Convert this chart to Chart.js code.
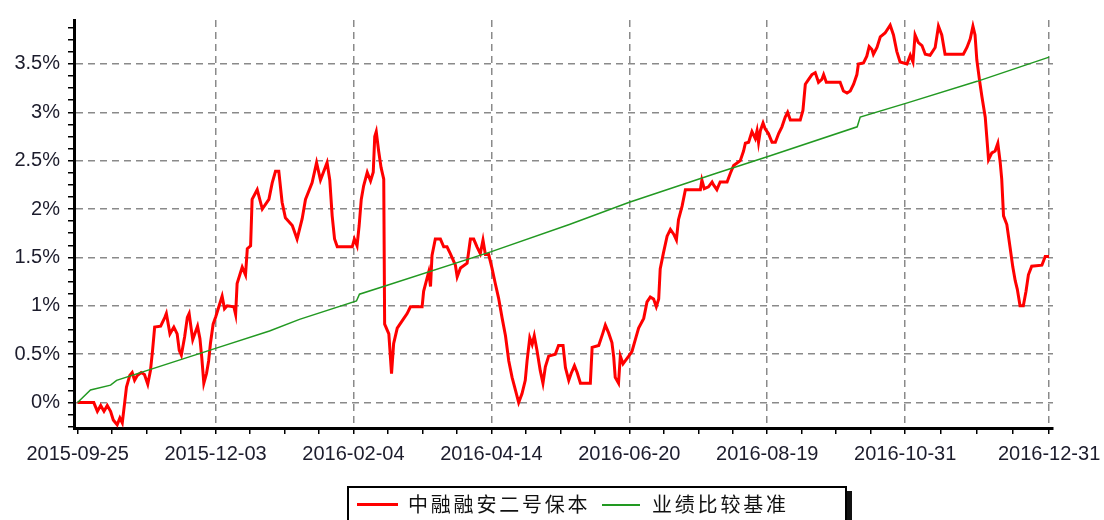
<!DOCTYPE html>
<html>
<head>
<meta charset="utf-8">
<script src="https://cdn.jsdelivr.net/npm/chart.js@4.4.1/dist/chart.umd.min.js"></script>
<style>
  body { margin: 0; background: #fff; }
  #wrap { position: relative; width: 1104px; height: 520px; overflow: hidden; }
  .legend {
    position: absolute; left: 347px; top: 486px; width: 496px; height: 50px;
    border: 2px solid #000; box-shadow: 5px 5px 0 #111; background: #fff;
    font-family: "Noto Sans CJK SC", sans-serif; font-size: 20px; letter-spacing: 2.8px; color: #111;
  }
  .legend .swatch { position: absolute; }
  .legend .txt { position: absolute; top: 2px; line-height: 28px; white-space: nowrap; }
</style>
</head>
<body>
<div id="wrap">
  <canvas id="chart" width="1104" height="520"></canvas>
  <div class="legend">
    <span class="swatch" style="left:8px;top:15px;width:41px;height:3px;background:#ff0000"></span>
    <span class="txt" style="left:59px">中融融安二号保本</span>
    <span class="swatch" style="left:253px;top:16px;width:38px;height:2px;background:#229922"></span>
    <span class="txt" style="left:303px">业绩比较基准</span>
  </div>
</div>
<script>
// x axis is the trading-day index counted from 2015-09-25
const tickDays = [0, 46, 92, 138, 184, 230, 276, 324];
const tickLabels = ['2015-09-25', '2015-12-03', '2016-02-04', '2016-04-14',
                    '2016-06-20', '2016-08-19', '2016-10-31', '2016-12-31'];

// 中融融安二号保本 (%)
const fundDay = [
  0, 5.4, 6.6, 7.7, 8.8, 9.9, 11, 11.9, 13.2, 14.1,
  14.9, 15.7, 16.3, 17.4, 18.2, 19, 19.9, 21.2, 22.3, 23.4,
  24.3, 25, 25.7, 27.7, 29.1, 29.6, 30.8, 32.1, 33.2, 33.9,
  34.6, 35.7, 36.6, 37.2, 37.9, 38.4, 39.3, 40, 40.8, 41.4,
  42.1, 43, 43.7, 44.3, 45.2, 46.1, 47.1, 48.2, 49, 49.9,
  52.1, 52.7, 53.2, 54.9, 56, 56.6, 57.7, 58.2, 59.9, 61.6,
  63.8, 64.9, 66, 67.1, 68.2, 69.3, 71.6, 73.2, 74.9, 76,
  78.2, 79.7, 81, 83.2, 84.1, 84.9, 85.7, 86.6, 91.6, 92.3,
  93.2, 93.9, 94.6, 95.4, 96.6, 97.7, 98.6, 99.1, 99.6, 100.4,
  101.2, 102.1, 102.4, 103.8, 104.7, 105.4, 106.6, 108.8, 109.9, 111,
  114.9, 115.4, 117.1, 117.7, 118.2, 119.3, 121, 122.1, 123.2, 124.3,
  126, 126.6, 127.7, 129.9, 131, 132.1, 133.2, 134.3, 135.2, 136,
  137.1, 138.2, 139.3, 140.4, 141.6, 142.7, 143.8, 144.9, 146, 147.1,
  148.2, 149.3, 149.9, 150.8, 151.6, 152.3, 153.2, 154.3, 155.2, 156,
  157.1, 159.3, 160.4, 161.9, 162.7, 163.8, 164.6, 165.7, 166.6, 167.7,
  171, 171.6, 173.8, 175.2, 176, 177.1, 178.2, 178.8, 179.3, 180.4,
  181, 181.9, 183.8, 184.9, 186, 187.1, 188.8, 189.9, 191, 192.1,
  193, 193.8, 194.3, 195.4, 196.6, 197.7, 198.8, 199.7, 200.4, 201.6,
  202.7, 207.7, 208.2, 209, 210.4, 211.6, 212.1, 213.2, 214.3, 216.6,
  217.7, 218.8, 221, 222.1, 222.7, 223.8, 224.9, 226, 226.6, 227.1,
  227.7, 228.6, 229.3, 230.4, 231.6, 232.7, 233.8, 234.9, 236, 236.8,
  237.7, 241, 241.9, 242.7, 243.8, 244.9, 246, 247.1, 248.2, 248.8,
  249.7, 254.3, 255.4, 256.6, 257.7, 258.8, 259.9, 260.4, 262.1, 263.2,
  264, 264.9, 265.4, 266.6, 267.7, 269.3, 271, 272.1, 273.2, 274.3,
  276.6, 277.7, 278.6, 279.3, 280.4, 281.6, 282.7, 284.3, 286, 287.1,
  288.2, 289.3, 295.4, 296.6, 297.7, 298.6, 299.3, 299.9, 300.8, 301.6,
  302.7, 303.2, 303.8, 304.9, 306, 306.9, 307.7, 308.2, 308.8, 309.9,
  311, 311.9, 312.7, 313.4, 314.3, 315.4, 316.3, 317.1, 318.2, 321.6,
  322.7, 324
];
const fundPct = [
  0, 0, -0.09, -0.03, -0.09, -0.03, -0.09, -0.18, -0.23, -0.16,
  -0.21, 0, 0.16, 0.28, 0.31, 0.23, 0.28, 0.31, 0.29, 0.19,
  0.33, 0.54, 0.78, 0.79, 0.88, 0.92, 0.71, 0.78, 0.71, 0.54,
  0.49, 0.68, 0.88, 0.92, 0.76, 0.65, 0.73, 0.79, 0.66, 0.47,
  0.2, 0.3, 0.43, 0.61, 0.81, 0.89, 0.99, 1.1, 0.97, 1.0,
  0.99, 0.91, 1.23, 1.4, 1.32, 1.59, 1.62, 2.1, 2.2, 2.0,
  2.1, 2.27, 2.39, 2.39, 2.07, 1.91, 1.83, 1.69, 1.9, 2.1,
  2.27, 2.48, 2.3, 2.48, 2.3, 1.93, 1.69, 1.61, 1.61, 1.69,
  1.62, 1.83, 2.1, 2.24, 2.38, 2.29, 2.38, 2.75, 2.8, 2.6,
  2.43, 2.31, 0.81, 0.71, 0.3, 0.61, 0.77, 0.87, 0.92, 0.99,
  0.99, 1.15, 1.35, 1.2, 1.52, 1.69, 1.69, 1.61, 1.61, 1.54,
  1.42, 1.3, 1.39, 1.44, 1.69, 1.69, 1.61, 1.54, 1.68, 1.53,
  1.53, 1.39, 1.23, 1.08, 0.87, 0.69, 0.43, 0.26, 0.13, 0.0,
  0.09, 0.23, 0.43, 0.67, 0.6, 0.69, 0.54, 0.33, 0.2, 0.37,
  0.48, 0.5, 0.59, 0.59, 0.36, 0.23, 0.3, 0.38, 0.31, 0.2,
  0.2, 0.57, 0.59, 0.72, 0.8, 0.72, 0.62, 0.47, 0.26, 0.2,
  0.48, 0.4, 0.48, 0.53, 0.65, 0.77, 0.87, 1.04, 1.09, 1.07,
  0.99, 1.07, 1.38, 1.55, 1.72, 1.79, 1.74, 1.68, 1.89, 2.03,
  2.2, 2.2, 2.3, 2.21, 2.23, 2.28, 2.25, 2.2, 2.28, 2.28,
  2.37, 2.45, 2.5, 2.6, 2.68, 2.69, 2.8, 2.73, 2.81, 2.69,
  2.81, 2.89, 2.83, 2.78, 2.69, 2.69, 2.78, 2.85, 2.95, 3.0,
  2.92, 2.92, 3.02, 3.29, 3.34, 3.39, 3.41, 3.31, 3.34, 3.39,
  3.31, 3.31, 3.22, 3.2, 3.22, 3.29, 3.39, 3.5, 3.51, 3.58,
  3.68, 3.65, 3.6, 3.67, 3.78, 3.82, 3.9, 3.8, 3.63, 3.52,
  3.5, 3.59, 3.52, 3.8, 3.72, 3.69, 3.6, 3.59, 3.67, 3.89,
  3.8, 3.6, 3.6, 3.67, 3.76, 3.89, 3.8, 3.54, 3.33, 3.16,
  2.95, 2.75, 2.51, 2.58, 2.6, 2.68, 2.48, 2.31, 1.93, 1.84,
  1.6, 1.4, 1.26, 1.17, 1.0, 1.0, 1.15, 1.32, 1.41, 1.42,
  1.51, 1.51
];

// 业绩比较基准 (%)
const benchDay = [0, 4.3, 11, 13, 46, 64, 74, 93, 94, 102, 138, 164, 184, 213, 230, 260, 261, 277, 300, 324];
const benchPct = [0, 0.13, 0.18, 0.23, 0.56, 0.74, 0.86, 1.05, 1.12, 1.2, 1.56, 1.84, 2.07, 2.37, 2.54, 2.85, 2.95, 3.1, 3.32, 3.57];

const gridGray = '#8a8a8a';
const labelColor = '#1c1c2c';

// major + minor ticks (4 minor divisions per label interval)
const xTicks = [];
for (let i = 0; i < tickDays.length - 1; i++) {
    const step = (tickDays[i + 1] - tickDays[i]) / 4;
    for (let k = 0; k < 4; k++) xTicks.push(tickDays[i] + k * step);
}
xTicks.push(tickDays[tickDays.length - 1]);

const yTicks = [];
for (let k = -2; k <= 31; k++) yTicks.push(k / 8);

const isMajorX = v => tickDays.includes(v);
const isMajorY = v => Math.abs(v * 2 - Math.round(v * 2)) < 1e-9;

new Chart(document.getElementById('chart'), {
    type: 'line',
    data: {
        datasets: [{
            label: '中融融安二号保本',
            data: fundDay.map((d, i) => ({ x: d, y: fundPct[i] })),
            borderColor: '#ff0000',
            borderWidth: 3,
            pointRadius: 0,
            tension: 0,
            order: 1
        }, {
            label: '业绩比较基准',
            data: benchDay.map((d, i) => ({ x: d, y: benchPct[i] })),
            borderColor: '#229922',
            borderWidth: 1.5,
            pointRadius: 0,
            tension: 0,
            order: 0
        }]
    },
    options: {
        responsive: false,
        animation: false,
        layout: { padding: { top: 15, right: 51, left: 0, bottom: 0 } },
        plugins: { legend: { display: false }, tooltip: { enabled: false } },
        font: { family: 'Liberation Sans' },
        scales: {
            x: {
                type: 'linear',
                min: -1.2,
                max: 325.3,
                afterBuildTicks: s => { s.ticks = xTicks.map(v => ({ value: v })); },
                afterFit: s => { s.height = 92; s.paddingLeft = 0; s.paddingRight = 0; },
                ticks: {
                    autoSkip: false,
                    maxRotation: 0,
                    padding: 8,
                    color: labelColor,
                    font: { family: 'Liberation Sans', size: 20 },
                    callback: v => isMajorX(v) ? tickLabels[tickDays.indexOf(v)] : ''
                },
                grid: {
                    color: c => (c.tick && isMajorX(c.tick.value) && c.tick.value !== 0) ? gridGray : 'rgba(0,0,0,0)',
                    lineWidth: 1.5,
                    tickColor: '#000',
                    tickLength: 6,
                    tickWidth: 1.5
                },
                border: { display: true, color: '#000', width: 3, dash: [7, 5] }
            },
            y: {
                min: -0.263,
                max: 3.954,
                afterBuildTicks: s => { s.ticks = yTicks.map(v => ({ value: v })); },
                afterFit: s => { s.width = 74; },
                ticks: {
                    autoSkip: false,
                    padding: 8,
                    color: labelColor,
                    font: { family: 'Liberation Sans', size: 20 },
                    callback: v => isMajorY(v) ? (Math.round(v * 10) / 10) + '%' : ''
                },
                grid: {
                    color: c => (c.tick && isMajorY(c.tick.value)) ? gridGray : 'rgba(0,0,0,0)',
                    lineWidth: 1.5,
                    tickColor: '#000',
                    tickLength: 6,
                    tickWidth: 1.5
                },
                border: { display: true, color: '#000', width: 3, dash: [7, 5] }
            }
        }
    }
});
</script>
</body>
</html>
